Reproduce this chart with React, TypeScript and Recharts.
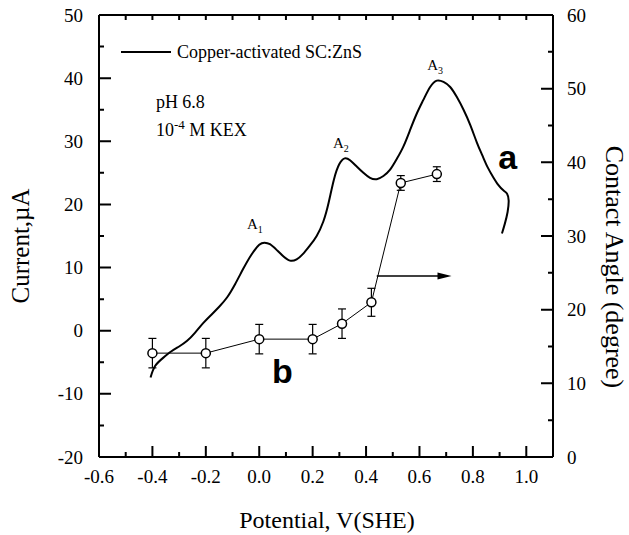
import { ErrorBar, Legend, Line, LineChart, ReferenceDot, ReferenceLine, XAxis, YAxis } from 'recharts';

// curve a: current vs potential (left axis)
const curveV = [
  -0.407, -0.39, -0.36, -0.33, -0.3, -0.27, -0.24, -0.21, -0.18, -0.15, -0.12, -0.09, -0.06, -0.03,
  0.0, 0.02, 0.04, 0.065, 0.09, 0.115, 0.14, 0.165, 0.19, 0.215, 0.24, 0.26, 0.28, 0.3, 0.32, 0.34,
  0.365, 0.39, 0.415, 0.44, 0.465, 0.49, 0.515, 0.54, 0.565, 0.59, 0.615, 0.64, 0.665, 0.69, 0.715,
  0.74, 0.765, 0.79, 0.815, 0.835, 0.855, 0.875, 0.895, 0.915, 0.928, 0.934, 0.93, 0.92, 0.909,
];
const curveI = [
  -7.4, -5.6, -4.3, -3.3, -2.5, -1.6, -0.3, 1.2, 2.5, 3.8, 5.3, 7.4, 9.8, 12.0,
  13.6, 13.95, 13.7, 12.8, 11.8, 11.1, 11.3, 12.2, 13.5, 15.0, 17.3, 20.3, 24.0, 26.4, 27.3, 27.0,
  26.0, 25.0, 24.2, 24.0, 24.5, 25.5, 27.2, 29.2, 31.8, 34.4, 36.6, 38.6, 39.6, 39.4, 38.6,
  37.0, 35.0, 32.6, 29.8, 27.8, 25.9, 24.4, 23.1, 22.2, 21.7, 20.6, 18.8, 17.0, 15.4,
];

// curve b: contact angle vs potential (right axis)
const angleV = [-0.4, -0.2, 0.0, 0.2, 0.31, 0.42, 0.53, 0.665];
const angleDeg = [14.1, 14.1, 16.0, 16.0, 18.1, 21.0, 37.2, 38.4];
const angleErr = [2.0, 2.0, 2.0, 2.0, 2.0, 1.9, 1.0, 1.0];

const xTicks = [-0.6, -0.5, -0.4, -0.3, -0.2, -0.1, 0, 0.1, 0.2, 0.3, 0.4, 0.5, 0.6, 0.7, 0.8, 0.9, 1.0, 1.1];
const leftTicks = [-20, -15, -10, -5, 0, 5, 10, 15, 20, 25, 30, 35, 40, 45, 50];
const rightTicks = [0, 5, 10, 15, 20, 25, 30, 35, 40, 45, 50, 55, 60];

const curveData = curveV.map((v, i) => ({ v, i: curveI[i] }));
const angleData = angleV.map((v, i) => ({ v, deg: angleDeg[i], err: angleErr[i] }));

const serif = "'Liberation Serif', 'Times New Roman', serif";
const sans = "'Liberation Sans', Arial, sans-serif";
const serifStyle = { fontFamily: serif };

const isMajorX = (v: number) => Math.round(v * 10) % 2 === 0;
const isMajorY = (v: number) => v % 10 === 0;

function BottomTick(props: any) {
  const v = props.payload.value;
  if (!isMajorX(v)) return <g />;
  return (
    <text x={props.x} y={Number(props.y) + 26} textAnchor="middle" style={serifStyle} fontSize={19} fill="#000">
      {v.toFixed(1)}
    </text>
  );
}

function LeftTick(props: any) {
  const v = props.payload.value;
  if (!isMajorY(v)) return <g />;
  return (
    <text x={Number(props.x) - 16} y={Number(props.y) + 6.5} textAnchor="end" style={serifStyle} fontSize={19} fill="#000">
      {v}
    </text>
  );
}

function RightTick(props: any) {
  const v = props.payload.value;
  if (!isMajorY(v)) return <g />;
  return (
    <text x={Number(props.x) + 14} y={Number(props.y) + 6.5} textAnchor="start" style={serifStyle} fontSize={19} fill="#000">
      {v}
    </text>
  );
}

// All inward tick marks in one shape. The reference segment runs from (-0.5, -10) to (1.0, 40),
// which gives the pixel scale; the marks themselves come from the tick arrays.
function TickMarks({ x1, y1, x2, y2 }: any) {
  const sx = (x2 - x1) / 1.5;
  const sy = (y2 - y1) / 50;
  const px = (v: number) => x1 + (v + 0.5) * sx;
  const py = (c: number) => y1 + (c + 10) * sy;
  const left = px(-0.6);
  const right = px(1.1);
  const bottom = py(-20);
  const top = py(50);
  const pyRight = (t: number) => bottom + ((top - bottom) * t) / 60;
  const marks: string[] = [];
  xTicks.slice(1, -1).forEach((v) => {
    const x = px(v);
    marks.push(`M${x},${bottom}V${bottom - (isMajorX(v) ? 11 : 5)}`);
    marks.push(`M${x},${top}V${top + 5}`);
  });
  leftTicks.slice(1, -1).forEach((c) => {
    const y = py(c);
    marks.push(`M${left},${y}H${left + (isMajorY(c) ? 12 : 5)}`);
  });
  rightTicks.slice(1, -1).forEach((t) => {
    const y = pyRight(t);
    marks.push(`M${right},${y}H${right - (isMajorY(t) ? 12 : 5)}`);
  });
  return <path d={marks.join(' ')} stroke="#000" strokeWidth={2} fill="none" />;
}

function Arrow({ x1, y1, x2 }: any) {
  return (
    <g>
      <line x1={x1} y1={y1} x2={x2 - 12} y2={y1} stroke="#000" strokeWidth={1.5} />
      <polygon points={`${x2},${y1} ${x2 - 14},${y1 - 3.5} ${x2 - 14},${y1 + 3.5}`} fill="#000" />
    </g>
  );
}

const peakLabel = (sub: string) => ({ cx, cy }: any) => (
  <text x={cx} y={cy} style={serifStyle} fontSize={15} fill="#000">
    A<tspan dy={4} fontSize={10}>{sub}</tspan>
  </text>
);

const bigLetter = (s: string) => ({ cx, cy }: any) => (
  <text x={cx} y={cy} style={{ fontFamily: sans }} fontWeight="bold" fontSize={34} fill="#000">
    {s}
  </text>
);

function LegendBox() {
  return (
    <div style={{ display: 'flex', alignItems: 'center', fontFamily: serif, fontSize: 18, lineHeight: '24px', whiteSpace: 'nowrap', color: '#000' }}>
      <svg width={50} height={4}>
        <line x1={0} y1={2} x2={50} y2={2} stroke="#000" strokeWidth={2} />
      </svg>
      <span style={{ marginLeft: 6 }}>Copper-activated SC:ZnS</span>
    </div>
  );
}

export default function App() {
  return (
    <div style={{ position: 'absolute', left: 0, top: 0, width: 629, height: 535, background: '#fff', fontFamily: serif }}>
      <LineChart width={629} height={535} margin={{ top: 0, right: 0, bottom: 0, left: 0 }}>
        <XAxis
          xAxisId="bottom"
          dataKey="v"
          type="number"
          domain={[-0.6, 1.1]}
          ticks={xTicks}
          interval={0}
          height={78}
          tickSize={0}
          tickMargin={0}
          tickLine={false}
          tick={BottomTick}
          axisLine={{ stroke: '#000', strokeWidth: 2 }}
          label={{
            content: () => (
              <text x={327} y={528} textAnchor="middle" style={serifStyle} fontSize={24} fill="#000">
                Potential, V(SHE)
              </text>
            ),
          }}
        />
        <XAxis
          xAxisId="top"
          orientation="top"
          dataKey="v"
          type="number"
          domain={[-0.6, 1.1]}
          ticks={xTicks}
          height={15}
          tick={false}
          tickLine={false}
          axisLine={{ stroke: '#000', strokeWidth: 2 }}
        />
        <YAxis
          yAxisId="left"
          type="number"
          domain={[-20, 50]}
          ticks={leftTicks}
          interval={0}
          width={99}
          tickSize={0}
          tickMargin={0}
          tickLine={false}
          tick={LeftTick}
          axisLine={{ stroke: '#000', strokeWidth: 2 }}
          label={{
            content: () => (
              <text x={20} y={246} transform="rotate(-90 20 246)" textAnchor="middle" dominantBaseline="central" style={serifStyle} fontSize={25} fill="#000">
                Current,µA
              </text>
            ),
          }}
        />
        <YAxis
          yAxisId="right"
          orientation="right"
          type="number"
          domain={[0, 60]}
          ticks={rightTicks}
          interval={0}
          width={76}
          tickSize={0}
          tickMargin={0}
          tickLine={false}
          tick={RightTick}
          axisLine={{ stroke: '#000', strokeWidth: 2 }}
          label={{
            content: () => (
              <text x={614} y={267} transform="rotate(90 614 267)" textAnchor="middle" dominantBaseline="central" style={serifStyle} fontSize={26} fill="#000">
                Contact Angle (degree)
              </text>
            ),
          }}
        />
        <Legend
          layout="vertical"
          align="center"
          verticalAlign="middle"
          wrapperStyle={{ left: 121, top: 40, width: 'auto' }}
          content={() => <LegendBox />}
        />

        <ReferenceLine
          xAxisId="bottom"
          yAxisId="left"
          segment={[{ x: -0.5, y: -10 }, { x: 1.0, y: 40 }]}
          shape={TickMarks}
        />

        <Line
          xAxisId="bottom"
          yAxisId="left"
          data={curveData}
          dataKey="i"
          type="natural"
          stroke="#000"
          strokeWidth={2}
          dot={false}
          isAnimationActive={false}
        />
        <Line
          xAxisId="bottom"
          yAxisId="right"
          data={angleData}
          dataKey="deg"
          type="linear"
          stroke="#000"
          strokeWidth={1}
          dot={{ r: 4.5, fill: '#fff', stroke: '#000', strokeWidth: 1.5 }}
          isAnimationActive={false}
        >
          <ErrorBar dataKey="err" width={4} stroke="#000" strokeWidth={1.2} direction="y" />
        </Line>
        <ReferenceLine
          xAxisId="bottom"
          yAxisId="left"
          segment={[{ x: 0.44, y: 8.65 }, { x: 0.72, y: 8.65 }]}
          shape={Arrow}
        />
        <ReferenceDot xAxisId="bottom" yAxisId="left" x={-0.046} y={16.1} r={0} shape={peakLabel('1')} />
        <ReferenceDot xAxisId="bottom" yAxisId="left" x={0.276} y={28.9} r={0} shape={peakLabel('2')} />
        <ReferenceDot xAxisId="bottom" yAxisId="left" x={0.629} y={41.3} r={0} shape={peakLabel('3')} />
        <ReferenceDot xAxisId="bottom" yAxisId="left" x={0.895} y={25.6} r={0} shape={bigLetter('a')} />
        <ReferenceDot xAxisId="bottom" yAxisId="left" x={0.048} y={-8.3} r={0} shape={bigLetter('b')} />
        <ReferenceDot
          xAxisId="bottom"
          yAxisId="left"
          x={-0.387}
          y={35.3}
          r={0}
          shape={({ cx, cy }: any) => (
            <text x={cx} y={cy} style={serifStyle} fontSize={18} fill="#000">pH 6.8</text>
          )}
        />
        <ReferenceDot
          xAxisId="bottom"
          yAxisId="left"
          x={-0.387}
          y={30.8}
          r={0}
          shape={({ cx, cy }: any) => (
            <text x={cx} y={cy} style={serifStyle} fontSize={18} fill="#000">
              10<tspan dy={-7} fontSize={13}>-4</tspan>
              <tspan dy={7}> M KEX</tspan>
            </text>
          )}
        />
      </LineChart>
    </div>
  );
}
